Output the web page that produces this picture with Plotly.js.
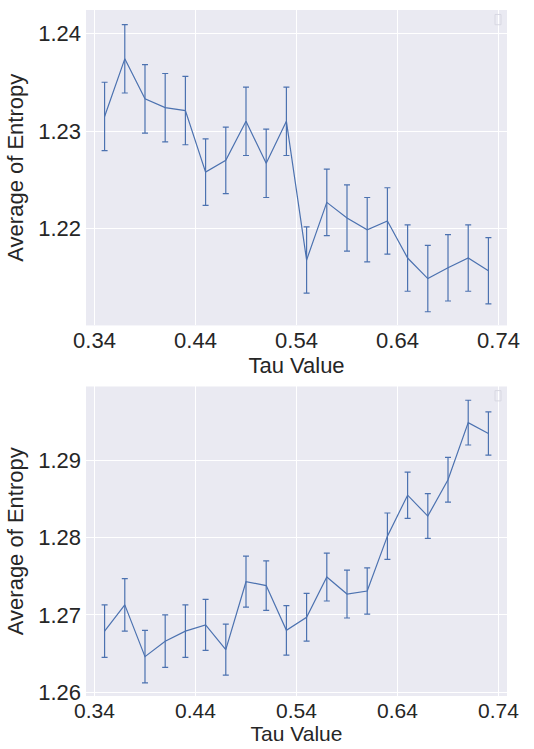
<!DOCTYPE html>
<html>
<head>
<meta charset="utf-8">
<script src="https://cdn.plot.ly/plotly-3.0.1.min.js"></script>
<style>html,body{margin:0;padding:0;background:#fff}#chart{width:534px;height:749px}</style>
</head>
<body>
<div id="chart"></div>
<script>
// Tau values (shared x for both panels)
const tau = [0.35,0.37,0.39,0.41,0.43,0.45,0.47,0.49,0.51,0.53,0.55,0.57,0.59,0.61,0.63,0.65,0.67,0.69,0.71,0.73];

// Top panel: average entropy and error
const entropyTop = [1.2315,1.2374,1.2333,1.2324,1.2321,1.2258,1.2270,1.2310,1.2267,1.2310,1.2168,1.2227,1.2211,1.2199,1.2208,1.2170,1.2149,1.2160,1.2170,1.2157];
const errTop = [0.0035,0.0035,0.0035,0.0035,0.0035,0.0034,0.0034,0.0035,0.0035,0.0035,0.0034,0.0034,0.0034,0.0033,0.0034,0.0034,0.0034,0.0034,0.0034,0.0034];

// Bottom panel: average entropy and error
const entropyBottom = [1.2679,1.2713,1.2646,1.2666,1.2679,1.2687,1.2655,1.2743,1.2738,1.2680,1.2697,1.2749,1.2727,1.2731,1.2802,1.2855,1.2828,1.2875,1.2949,1.2935];
const errBottom = [0.0034,0.0034,0.0034,0.0034,0.0034,0.0033,0.0033,0.0033,0.0032,0.0032,0.0031,0.0031,0.0031,0.0030,0.0030,0.0030,0.0029,0.0029,0.0029,0.0028];

const xTicks = [0.34,0.44,0.54,0.64,0.74];
const yTicksTop = [1.22,1.23,1.24];
const yTicksBottom = [1.26,1.27,1.28,1.29];

const blue = '#4c72b0';
const txt = '#262626';
const font = 'Liberation Sans, Arial, sans-serif';
const fs = 22;

function trace(y, e, xa, ya) {
  return {
    x: tau, y: y, xaxis: xa, yaxis: ya, type: 'scatter', mode: 'lines',
    line: {color: blue, width: 1.2},
    error_y: {type: 'data', array: e, visible: true, color: blue, thickness: 1.2, width: 3},
    showlegend: false, hoverinfo: 'skip'
  };
}

const axCommon = {
  showgrid: true, gridcolor: '#ffffff', gridwidth: 1, zeroline: false,
  showline: false, ticks: '', tickfont: {family: font, size: fs, color: txt}
};

const xRange = [0.3316, 0.7484];

const layout = {
  width: 534, height: 749,
  margin: {l: 86, r: 27, t: 10, b: 53},
  paper_bgcolor: '#ffffff', plot_bgcolor: '#eaeaf2',
  font: {family: font, color: txt},
  xaxis: Object.assign({}, axCommon, {
    domain: [0, 1], anchor: 'y', range: xRange, tickvals: xTicks, tickformat: '.2f',
    title: {text: 'Tau Value', font: {family: font, size: fs, color: txt}, standoff: 0}
  }),
  yaxis: Object.assign({}, axCommon, {
    domain: [0.5402, 1], anchor: 'x', range: [1.2101, 1.2424], tickvals: yTicksTop, tickformat: '.2f',
    ticklabelstandoff: 4,
    title: {text: 'Average of Entropy', font: {family: font, size: fs, color: txt}, standoff: 8}
  }),
  xaxis2: Object.assign({}, axCommon, {
    domain: [0, 1], anchor: 'y2', range: xRange, tickvals: xTicks, tickformat: '.2f',
    tickfont: {family: font, size: 21, color: txt},
    title: {text: 'Tau Value', font: {family: font, size: 21, color: txt}, standoff: 0}
  }),
  yaxis2: Object.assign({}, axCommon, {
    domain: [0, 0.4512], anchor: 'x2', range: [1.2595, 1.29958], tickvals: yTicksBottom, tickformat: '.2f',
    ticklabelstandoff: 4,
    title: {text: 'Average of Entropy', font: {family: font, size: fs, color: txt}, standoff: 8}
  }),
  shapes: [
    {type: 'rect', xref: 'paper', yref: 'paper', x0: 0.9715, x1: 0.9858, y0: 0.9785, y1: 0.9935,
     line: {color: '#d8d8e2', width: 1}, fillcolor: 'rgba(0,0,0,0)'},
    {type: 'rect', xref: 'paper', yref: 'paper', x0: 0.9715, x1: 0.9858, y0: 0.4302, y1: 0.4452,
     line: {color: '#d8d8e2', width: 1}, fillcolor: 'rgba(0,0,0,0)'}
  ]
};

Plotly.newPlot('chart', [
  trace(entropyTop, errTop, 'x', 'y'),
  trace(entropyBottom, errBottom, 'x2', 'y2')
], layout, {staticPlot: true, displayModeBar: false});
</script>
</body>
</html>
